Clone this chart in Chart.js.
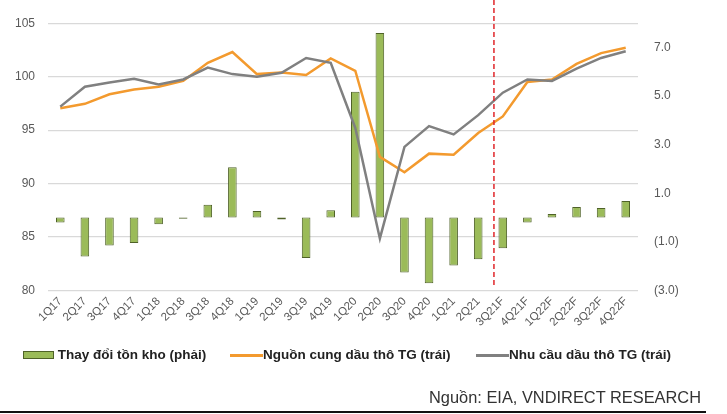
<!DOCTYPE html>
<html>
<head>
<meta charset="utf-8">
<script src="https://cdn.jsdelivr.net/npm/chart.js@4"></script>
<style>
  body { margin: 0; background: #fff; }
  #wrap { position: relative; width: 727px; height: 414px; font-family: "Liberation Sans", Arial, sans-serif; }
  #legend { position: absolute; top: 347px; left: 0; width: 727px; height: 20px; font-size: 13.5px; color: #222; font-weight: bold; }
  .item { position: absolute; top: 0; white-space: nowrap; }
  .sw { display: inline-block; vertical-align: middle; }
  #source { position: absolute; left: 429px; top: 388px; font-size: 16.4px; color: #333; }
  #rule { position: absolute; left: 0; top: 411px; width: 706px; height: 2px; background: #111; }
</style>
</head>
<body>
<div id="wrap">
  <canvas id="chart" width="727" height="414"></canvas>
  <div id="legend">
    <div class="item" style="left:23px"><span class="sw" style="width:29px;height:6px;background:#9BBB59;border:1px solid #4F6228"></span> Thay đổi tồn kho (phải)</div>
    <div class="item" style="left:230px"><span class="sw" style="width:33px;height:3px;background:#F39A2E"></span>Nguồn cung dầu thô TG (trái)</div>
    <div class="item" style="left:476px"><span class="sw" style="width:33px;height:3px;background:#808080"></span>Nhu cầu dầu thô TG (trái)</div>
  </div>
  <div id="source">Nguồn: EIA, VNDIRECT RESEARCH</div>
  <div id="rule"></div>
</div>
<script>
const quarters = ["1Q17","2Q17","3Q17","4Q17","1Q18","2Q18","3Q18","4Q18","1Q19","2Q19","3Q19","4Q19",
  "1Q20","2Q20","3Q20","4Q20","1Q21","2Q21","3Q21F","4Q21F","1Q22F","2Q22F","3Q22F","4Q22F"];

// thay doi ton kho (right axis)
const stockChange = [-0.2,-1.6,-1.15,-1.05,-0.27,-0.05,0.53,2.07,0.27,-0.08,-1.66,0.3,
  5.18,7.6,-2.26,-2.7,-1.97,-1.71,-1.26,-0.2,0.15,0.44,0.4,0.68];

// nguon cung (left axis)
const supply = [97.05,97.46,98.35,98.8,99.06,99.6,101.3,102.3,100.24,100.4,100.15,101.7,
  100.55,92.5,91.06,92.8,92.7,94.73,96.28,99.5,99.74,101.2,102.2,102.7];

// nhu cau (left axis)
const demand = [97.2,99.06,99.46,99.8,99.28,99.74,100.85,100.24,99.99,100.36,101.75,101.3,
  95.2,84.87,93.43,95.38,94.6,96.4,98.5,99.74,99.6,100.76,101.75,102.37];

const rightTicks = [-3,-1,1,3,5,7];
const forecastStart = "3Q21F";

// red dashed separator before forecasts
const forecastLine = {
  id: 'forecastLine',
  afterDatasetsDraw(c) {
    const x = c.scales.x;
    const i = quarters.indexOf(forecastStart);
    const px = x.getPixelForValue(i - 1) + 0.64 * (x.getPixelForValue(i) - x.getPixelForValue(i - 1));
    const ctx = c.ctx;
    ctx.save();
    ctx.strokeStyle = '#E0262B';
    ctx.lineWidth = 1.5;
    ctx.setLineDash([5, 3]);
    ctx.beginPath();
    ctx.moveTo(px, 0);
    ctx.lineTo(px, c.chartArea.bottom - 3);
    ctx.stroke();
    ctx.restore();
  }
};

const tickFont = { family: "Liberation Sans, Arial, sans-serif", size: 12 };

new Chart(document.getElementById('chart'), {
  type: 'bar',
  data: {
    labels: quarters,
    datasets: [
      {
        type: 'line', label: 'Nguồn cung dầu thô TG (trái)', data: supply, yAxisID: 'y',
        borderColor: '#F39A2E', borderWidth: 2.5, pointRadius: 0, tension: 0, order: 1
      },
      {
        type: 'line', label: 'Nhu cầu dầu thô TG (trái)', data: demand, yAxisID: 'y',
        borderColor: '#808080', borderWidth: 2.5, pointRadius: 0, tension: 0, order: 0
      },
      {
        label: 'Thay đổi tồn kho (phải)', data: stockChange, yAxisID: 'y1',
        backgroundColor: '#9BBB59', borderColor: '#4F6228', borderWidth: 1, borderSkipped: false,
        categoryPercentage: 1, barPercentage: 0.35, order: 2
      }
    ]
  },
  options: {
    responsive: false,
    animation: false,
    layout: { padding: { top: 21, left: 0, right: 0, bottom: 0 } },
    plugins: { legend: { display: false }, tooltip: { enabled: false } },
    scales: {
      x: {
        offset: true,
        grid: { display: false, drawTicks: false },
        border: { display: false },
        ticks: { color: '#595959', font: { family: tickFont.family, size: 11.5 }, minRotation: 45, maxRotation: 45, padding: 4, autoSkip: false },
        afterFit(s) { s.height = 123.5; }
      },
      y: {
        position: 'left', min: 80, max: 105,
        ticks: { stepSize: 5, color: '#595959', font: tickFont, padding: 13 },
        grid: { color: '#D9D9D9', drawTicks: false, lineWidth: 1.2 },
        border: { display: false },
        afterFit(s) { s.width = 48; }
      },
      y1: {
        position: 'right', min: -3, max: 8,
        afterBuildTicks(s) { s.ticks = rightTicks.map(v => ({ value: v })); },
        ticks: {
          color: '#595959', font: tickFont, padding: 16,
          callback: v => v < 0 ? '(' + Math.abs(v).toFixed(1) + ')' : v.toFixed(1)
        },
        grid: { display: false, drawTicks: false },
        border: { display: false },
        afterFit(s) { s.width = 89; }
      }
    }
  },
  plugins: [forecastLine]
});
</script>
</body>
</html>
